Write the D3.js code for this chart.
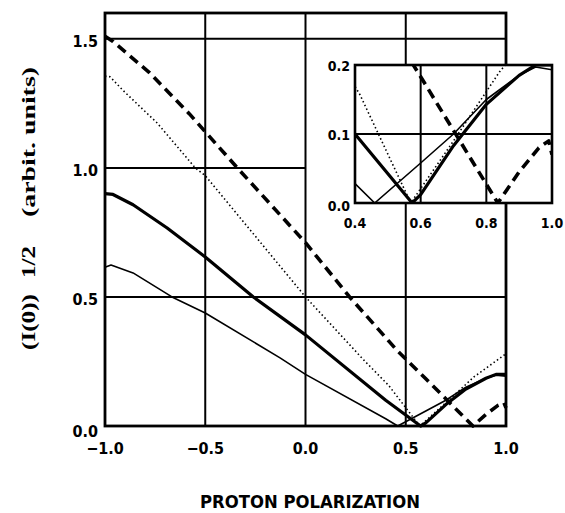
<!DOCTYPE html>
<html>
<head>
<meta charset="utf-8">
<script src="https://cdn.jsdelivr.net/npm/d3@7"></script>
<style>
  body { margin: 0; background: #fff; }
  text { fill: #000; }
</style>
</head>
<body>
<svg id="chart" width="565" height="513"></svg>
<script>
// curves (x = proton polarization, y = (I(0))^1/2)
var thickX = [-1, -0.96, -0.86, -0.69, -0.5, -0.26, 0, 0.4, 0.574, 0.6, 0.7, 0.8, 0.9, 0.95, 1.0];
var thickY = [0.9, 0.897, 0.857, 0.767, 0.655, 0.5, 0.353, 0.1, 0, 0.012, 0.083, 0.143, 0.185, 0.2, 0.2];
var thinX = [-1, -0.97, -0.86, -0.666, -0.5, -0.127, 0, 0.4, 0.46, 0.6, 0.7, 0.8, 0.9, 0.95, 1.0];
var thinY = [0.615, 0.624, 0.593, 0.5, 0.438, 0.264, 0.2, 0.028, 0, 0.058, 0.1, 0.15, 0.185, 0.197, 0.193];
var dotX = [-1, -0.975, -0.91, -0.74, -0.55, -0.5, 0, 0.29, 0.415, 0.57, 0.7, 0.84, 1.0];
var dotY = [1.355, 1.353, 1.30, 1.174, 1.0, 0.97, 0.5, 0.256, 0.157, 0, 0.09, 0.19, 0.28];
var dashX = [-1, -0.96, -0.78, -0.58, -0.5, -0.34, 0, 0.22, 0.46, 0.6, 0.835, 0.9, 0.96, 0.99, 1.0];
var dashY = [1.51, 1.49, 1.37, 1.21, 1.14, 1.0, 0.71, 0.5, 0.29, 0.183, 0, 0.045, 0.08, 0.09, 0.07];

var xTicks = [-1.0, -0.5, 0.0, 0.5, 1.0];
var yTicks = [0.0, 0.5, 1.0, 1.5];
var insetXTicks = [0.4, 0.6, 0.8, 1.0];
var insetYTicks = [0.0, 0.1, 0.2];

var svg = d3.select('#chart');
var tickFont = '"Liberation Sans Narrow", "DejaVu Sans Condensed", sans-serif';

var x = d3.scaleLinear().domain([-1, 1]).range([105, 506]);
var y = d3.scaleLinear().domain([0, 1.6]).range([426, 13]);
var ix = d3.scaleLinear().domain([0.4, 1]).range([355, 552]);
var iy = d3.scaleLinear().domain([0, 0.2]).range([203, 65]);

function pts(xs, ys) { return xs.map(function (v, i) { return [v, ys[i]]; }); }

var series = [
  { d: pts(thinX, thinY), w: 1.6, dash: null },
  { d: pts(thickX, thickY), w: 3.2, dash: null },
  { d: pts(dotX, dotY), w: 1.6, dash: '1.5,2.6' },
  { d: pts(dashX, dashY), w: 3.6, dash: '10,6' }
];

// main grid
var grid = svg.append('g').attr('stroke', '#000').attr('stroke-width', 2);
[-0.5, 0, 0.5].forEach(function (v) {
  grid.append('line').attr('x1', x(v)).attr('x2', x(v)).attr('y1', y(1.6)).attr('y2', y(0));
});
[0.5, 1.5].forEach(function (v) {
  grid.append('line').attr('x1', x(-1)).attr('x2', x(1)).attr('y1', y(v)).attr('y2', y(v));
});
grid.append('line').attr('x1', x(-1)).attr('x2', x(0)).attr('y1', y(1)).attr('y2', y(1));

// main frame
svg.append('rect').attr('x', x(-1)).attr('y', y(1.6)).attr('width', x(1) - x(-1)).attr('height', y(0) - y(1.6))
  .attr('fill', 'none').attr('stroke', '#000').attr('stroke-width', 2.8);

// main curves
var line = d3.line().x(function (d) { return x(d[0]); }).y(function (d) { return y(d[1]); });
series.forEach(function (s) {
  svg.append('path').attr('d', line(s.d)).attr('fill', 'none').attr('stroke', '#000')
    .attr('stroke-width', s.w).attr('stroke-dasharray', s.dash).attr('stroke-linejoin', 'round');
});

// main tick labels
svg.append('g').selectAll('text').data(yTicks).enter().append('text')
  .attr('x', 98).attr('y', function (d) { return y(d) + (d === 0 ? 11 : 8); })
  .attr('text-anchor', 'end').attr('font-family', tickFont).attr('font-weight', 'bold').attr('font-size', 16)
  .text(d3.format('.1f'));
svg.append('g').selectAll('text').data(xTicks).enter().append('text')
  .attr('x', function (d) { return x(d); }).attr('y', 454)
  .attr('text-anchor', 'middle').attr('font-family', tickFont).attr('font-weight', 'bold').attr('font-size', 16)
  .text(d3.format('.1f'));

// axis titles
svg.append('text').attr('x', 310).attr('y', 508).attr('text-anchor', 'middle')
  .attr('font-family', tickFont).attr('font-weight', 'bold').attr('font-size', 18)
  .attr('textLength', 220).attr('lengthAdjust', 'spacingAndGlyphs')
  .text('PROTON POLARIZATION');
var yt = [
  { t: '(I(0))', c: 322, len: 56 },
  { t: '1/2', c: 262, len: 32 },
  { t: '(arbit. units)', c: 142, len: 150 }
];
yt.forEach(function (p) {
  svg.append('text').attr('transform', 'translate(35,' + p.c + ') rotate(-90)')
    .attr('text-anchor', 'middle').attr('font-family', '"Liberation Serif", "DejaVu Serif", serif')
    .attr('font-weight', 'bold').attr('font-size', 18)
    .attr('textLength', p.len).attr('lengthAdjust', 'spacingAndGlyphs').text(p.t);
});

// inset
var inset = svg.append('g');
inset.append('rect').attr('x', ix(0.4)).attr('y', iy(0.2)).attr('width', ix(1) - ix(0.4)).attr('height', iy(0) - iy(0.2))
  .attr('fill', '#fff');
inset.append('clipPath').attr('id', 'iclip').append('rect')
  .attr('x', ix(0.4)).attr('y', iy(0.2)).attr('width', ix(1) - ix(0.4)).attr('height', iy(0) - iy(0.2));
var ig = inset.append('g').attr('stroke', '#000').attr('stroke-width', 2);
[0.6, 0.8].forEach(function (v) {
  ig.append('line').attr('x1', ix(v)).attr('x2', ix(v)).attr('y1', iy(0.2)).attr('y2', iy(0));
});
ig.append('line').attr('x1', ix(0.4)).attr('x2', ix(1)).attr('y1', iy(0.1)).attr('y2', iy(0.1));

var iline = d3.line().x(function (d) { return ix(d[0]); }).y(function (d) { return iy(d[1]); });
var ic = inset.append('g').attr('clip-path', 'url(#iclip)');
series.forEach(function (s) {
  ic.append('path').attr('d', iline(s.d)).attr('fill', 'none').attr('stroke', '#000')
    .attr('stroke-width', s.w).attr('stroke-dasharray', s.dash).attr('stroke-linejoin', 'round');
});
inset.append('rect').attr('x', ix(0.4)).attr('y', iy(0.2)).attr('width', ix(1) - ix(0.4)).attr('height', iy(0) - iy(0.2))
  .attr('fill', 'none').attr('stroke', '#000').attr('stroke-width', 2.6);

inset.append('g').selectAll('text').data(insetYTicks).enter().append('text')
  .attr('x', 350).attr('y', function (d) { return iy(d) + (d === 0 ? 8 : 6); })
  .attr('text-anchor', 'end').attr('font-family', tickFont).attr('font-weight', 'bold').attr('font-size', 14)
  .text(d3.format('.1f'));
inset.append('g').selectAll('text').data(insetXTicks).enter().append('text')
  .attr('x', function (d) { return ix(d); }).attr('y', 228)
  .attr('text-anchor', 'middle').attr('font-family', tickFont).attr('font-weight', 'bold').attr('font-size', 14)
  .text(d3.format('.1f'));
</script>
</body>
</html>
